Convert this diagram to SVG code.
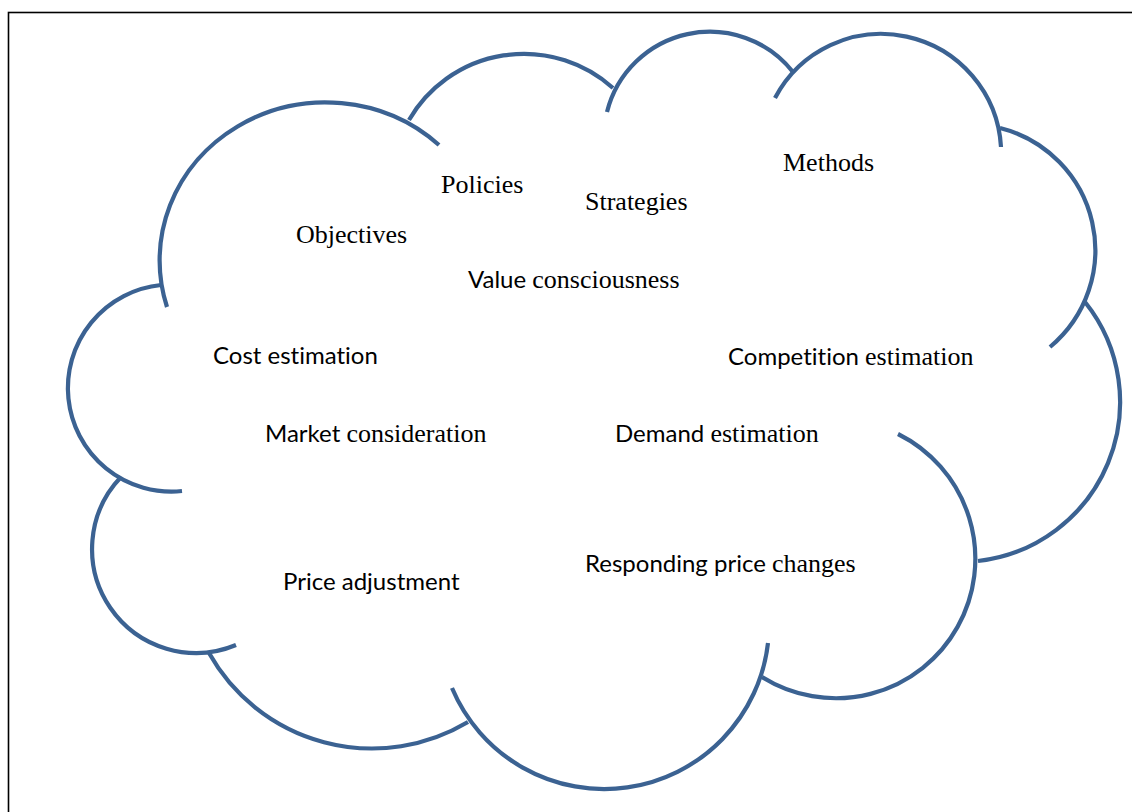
<svg xmlns="http://www.w3.org/2000/svg" width="1132" height="812" viewBox="0 0 1132 812">
  <style>
    .frame { fill: none; stroke: #000; stroke-width: 1.6; }
    .arc { fill: none; stroke: #3B6292; stroke-width: 4.2; stroke-linecap: butt; }
    .serif { font-family: "Liberation Serif", "Times New Roman", serif; font-size: 26px; fill: #000; }
    .sans { font-family: Lato, "Open Sans", "Liberation Sans", sans-serif; font-size: 24px; fill: #000; font-variant-ligatures: none; }
  </style>

  <rect width="1132" height="812" fill="#fff"/>
  <!-- page frame, running off the right and bottom edges -->
  <rect class="frame" x="8.5" y="12.5" width="1140" height="820"/>

  <!-- cloud outline: overlapping circular arcs -->
  <g id="cloud">
    <path class="arc" d="M161,285 A103.5,103.5 0 1 0 182,491"/>
    <path class="arc" d="M167,307 A166,158 0 0 1 439,145"/>
    <path class="arc" d="M409,120 A133,133 0 0 1 613,88"/>
    <path class="arc" d="M607,112 A106,106 0 0 1 793,72"/>
    <path class="arc" d="M775,98 A120,120 0 0 1 1001,147"/>
    <path class="arc" d="M1000,128 A126,126 0 0 1 1050,347"/>
    <path class="arc" d="M1085,302 A160,160 0 0 1 978,561"/>
    <path class="arc" d="M898,434 A139.4,139.4 0 1 1 762,677"/>
    <path class="arc" d="M768,643 A165,165 0 0 1 452,688"/>
    <path class="arc" d="M468,722 A187,187 0 0 1 209,653"/>
    <path class="arc" d="M236,645 A104,104 0 0 1 121,477"/>
  </g>

  <g id="objectives"><text class="serif" x="296" y="243">Objectives</text></g>
  <g id="policies"><text class="serif" x="441" y="193">Policies</text></g>
  <g id="strategies"><text class="serif" x="585" y="210">Strategies</text></g>
  <g id="methods"><text class="serif" x="783" y="171">Methods</text></g>
  <g id="value-consciousness"><text x="468" y="288"><tspan class="sans">Value </tspan><tspan class="serif">consciousness</tspan></text></g>
  <g id="cost-estimation"><text class="sans" x="213" y="364">Cost estimation</text></g>
  <g id="competition-estimation"><text x="728" y="365"><tspan class="sans">Competition </tspan><tspan class="serif">estimation</tspan></text></g>
  <g id="market-consideration"><text x="265" y="442"><tspan class="sans">Market </tspan><tspan class="serif">consideration</tspan></text></g>
  <g id="demand-estimation"><text x="615" y="442"><tspan class="sans">Demand </tspan><tspan class="serif">estimation</tspan></text></g>
  <g id="responding-price-changes"><text x="585" y="572"><tspan class="sans">Responding price </tspan><tspan class="serif">changes</tspan></text></g>
  <g id="price-adjustment"><text class="sans" x="283" y="590">Price adjustment</text></g>
</svg>
